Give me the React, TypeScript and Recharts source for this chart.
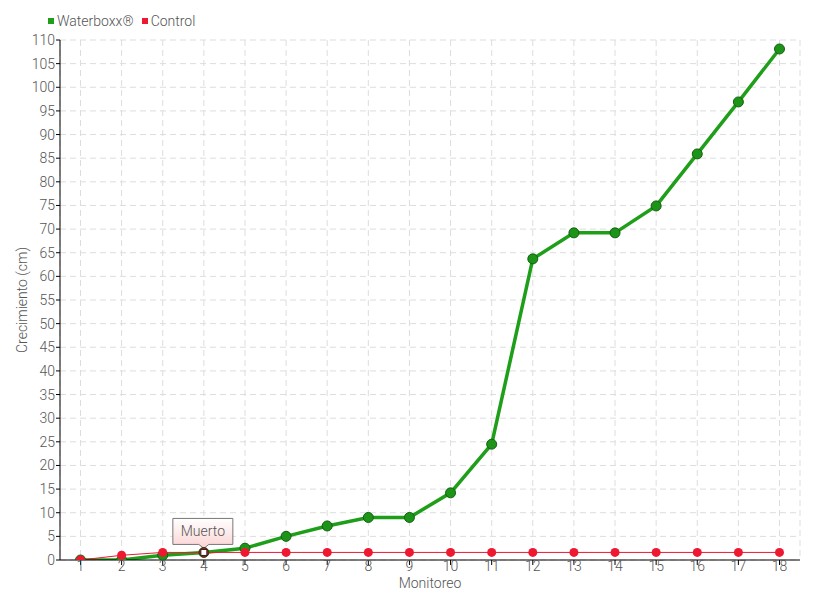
import React from 'react';
import { LineChart, Line, XAxis, YAxis, CartesianGrid, Legend, ReferenceDot, Label } from 'recharts';

const monitoreo = [1, 2, 3, 4, 5, 6, 7, 8, 9, 10, 11, 12, 13, 14, 15, 16, 17, 18];
const waterboxx = [0, 0, 1, 1.6, 2.5, 5, 7.2, 9, 9, 14.2, 24.5, 63.7, 69.2, 69.2, 74.9, 85.9, 96.9, 108.1];
const control = [0, 1, 1.6, 1.6, 1.6, 1.6, 1.6, 1.6, 1.6, 1.6, 1.6, 1.6, 1.6, 1.6, 1.6, 1.6, 1.6, 1.6];
const yTicks = [0, 5, 10, 15, 20, 25, 30, 35, 40, 45, 50, 55, 60, 65, 70, 75, 80, 85, 90, 95, 100, 105, 110];
const annotation = { x: 4, y: 1.6, text: 'Muerto' };

const data = monitoreo.map((m, i) => ({ m, waterboxx: waterboxx[i], control: control[i] }));

const FONT = '"Roboto", "Liberation Sans Narrow", sans-serif';
const GREEN = '#1f9e1a';
const RED = '#ee1830';
const TEXT = '#555';

const LegendContent = () => (
  <div style={{ display: 'flex', alignItems: 'center', fontFamily: FONT, fontSize: 14, color: TEXT, fontWeight: 300, whiteSpace: 'nowrap' }}>
    <span style={{ width: 6, height: 6, background: GREEN, display: 'inline-block', marginRight: 3 }} />
    <span style={{ marginRight: 8 }}>Waterboxx®</span>
    <span style={{ width: 6, height: 6, background: RED, display: 'inline-block', marginRight: 3 }} />
    <span>Control</span>
  </div>
);

const Callout = (props: any) => {
  const { cx, cy } = props;
  if (cx == null || cy == null) return null;
  const bw = 60;
  const bh = 26;
  const bx = cx - bw / 2 - 1;
  const by = cy - 34;
  const tipY = cy - 4;
  const path = `M${bx},${by} L${bx + bw},${by} L${bx + bw},${by + bh} L${cx + 5},${by + bh} L${cx},${tipY} L${cx - 5},${by + bh} L${bx},${by + bh} Z`;
  return (
    <g>
      <defs>
        <linearGradient id="calloutGrad" x1="0" y1="0" x2="0" y2="1">
          <stop offset="0%" stopColor="#ffffff" />
          <stop offset="100%" stopColor="#fbd3d3" />
        </linearGradient>
      </defs>
      <path d={path} fill="url(#calloutGrad)" stroke="#777" strokeWidth={1} />
      <text x={bx + bw / 2} y={by + bh / 2 + 5} textAnchor="middle" fontFamily={FONT} fontWeight={300} fontSize={14} fill={TEXT}>
        {annotation.text}
      </text>
    </g>
  );
};

const ControlDot = (props: any) => {
  const { cx, cy, index } = props;
  if (cx == null || cy == null) return null;
  if (monitoreo[index] === annotation.x) {
    return (
      <g key={`cd-${index}`}>
        <circle cx={cx} cy={cy} r={4.5} fill={RED} stroke="#7a1010" strokeWidth={1} />
        <rect x={cx - 3} y={cy - 3} width={6} height={6} fill="#fff" stroke="#222" strokeWidth={1} />
      </g>
    );
  }
  return <circle key={`cd-${index}`} cx={cx} cy={cy} r={4.5} fill={RED} />;
};

const tickStyle = { fill: TEXT, fontFamily: FONT, fontSize: 14, fontWeight: 300 };

export default function App() {
  return (
    <div style={{ position: 'absolute', left: 0, top: 0, width: 820, height: 600, background: '#fff' }}>
      <LineChart width={820} height={600} data={data} margin={{ top: 20, right: 20, bottom: 0, left: 0 }}>
        <CartesianGrid stroke="#ddd" strokeDasharray="6 4" />
        <XAxis
          dataKey="m"
          height={40}
          stroke="#000"
          tick={tickStyle}
          tickLine={{ stroke: '#000' }}
          tickSize={5}
          tickMargin={-4}
          interval={0}
          padding={{ left: 20.5, right: 20.5 }}
        >
          <Label value="Monitoreo" position="insideBottom" offset={12} fill={TEXT} fontFamily={FONT} fontWeight={300} fontSize={14} />
        </XAxis>
        <YAxis
          width={60}
          domain={[0, 110]}
          ticks={yTicks}
          interval={0}
          stroke="#000"
          tick={tickStyle}
          tickSize={4}
          tickMargin={1}
          allowDataOverflow
        >
          <Label value="Crecimiento (cm)" angle={-90} position="insideLeft" offset={22} fill={TEXT} fontFamily={FONT} fontWeight={300} fontSize={14} style={{ textAnchor: 'middle' }} />
        </YAxis>
        <Legend verticalAlign="top" align="left" content={<LegendContent />} wrapperStyle={{ position: 'absolute', top: 13, left: 48, width: 'auto', height: 20 }} />
        <ReferenceDot x={annotation.x} y={annotation.y} shape={Callout} />
        <Line
          type="linear"
          dataKey="waterboxx"
          stroke={GREEN}
          strokeWidth={3.5}
          dot={{ r: 5, fill: '#1c9418', stroke: '#136010', strokeWidth: 1 }}
          isAnimationActive={false}
        />
        <Line
          type="linear"
          dataKey="control"
          stroke={RED}
          strokeWidth={1}
          dot={ControlDot}
          isAnimationActive={false}
        />
      </LineChart>
    </div>
  );
}
